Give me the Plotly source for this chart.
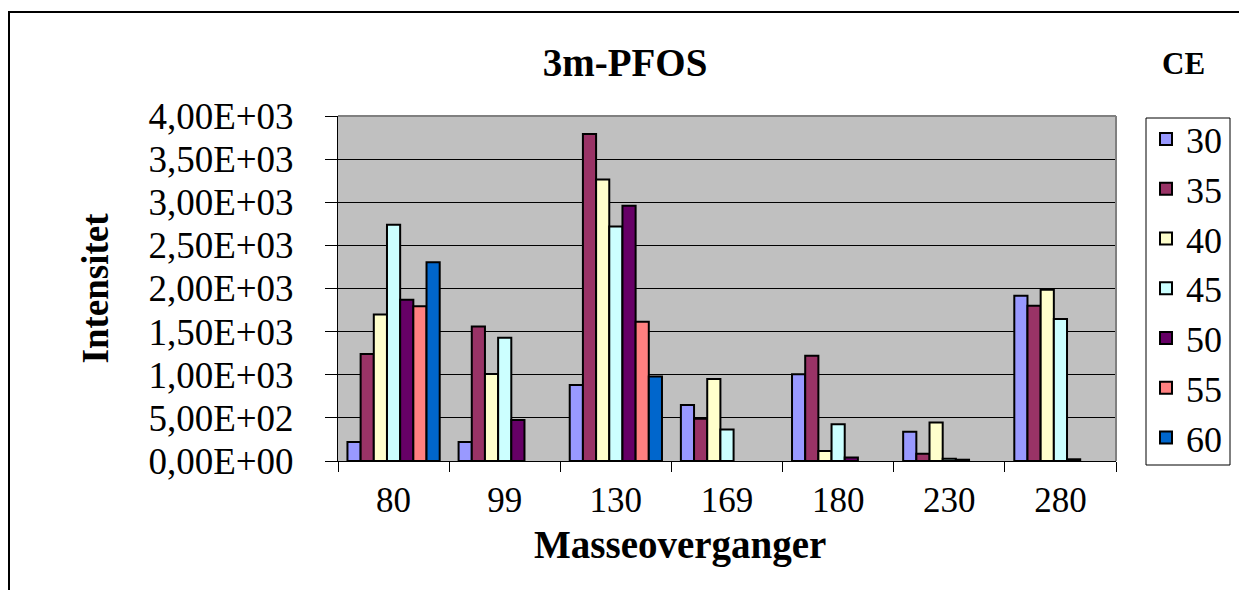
import plotly.graph_objects as go

categories = ["80", "99", "130", "169", "180", "230", "280"]
series_names = ["30", "35", "40", "45", "50", "55", "60"]
values_30 = [220, 220, 880, 650, 1005, 340, 1915]
values_35 = [1240, 1560, 3790, 490, 1220, 85, 1800]
values_40 = [1700, 1010, 3265, 950, 115, 445, 1985]
values_45 = [2740, 1430, 2720, 365, 425, 25, 1645]
values_50 = [1870, 475, 2960, None, 40, 15, 20]
values_55 = [1795, None, 1615, None, None, None, None]
values_60 = [2305, None, 980, None, None, None, None]
series_values = [values_30, values_35, values_40, values_45, values_50, values_55, values_60]
colors = ["#9999FF", "#993366", "#FFFFCC", "#CCFFFF", "#660066", "#FF8080", "#0066CC"]

y_tickvals = [0, 500, 1000, 1500, 2000, 2500, 3000, 3500, 4000]
y_ticktext = ["0,00E+00", "5,00E+02", "1,00E+03", "1,50E+03", "2,00E+03",
              "2,50E+03", "3,00E+03", "3,50E+03", "4,00E+03"]

FONT = "Liberation Serif"

fig = go.Figure()
for i, (name, vals, col) in enumerate(zip(series_names, series_values, colors)):
    fig.add_trace(go.Bar(
        x=categories, y=vals, name=name,
        legend="legend" if i < 4 else "legend2",
        marker=dict(color=col, line=dict(color="black", width=2)),
    ))

W, H = 1239, 590
L, T = 338, 116
pw, ph = 778, 345
R = W - L - pw
B = H - T - ph

def px_x(x):
    return (x - L) / pw

def px_y(y):
    return (T + ph - y) / ph

legend_common = dict(xanchor="left", yanchor="top", bgcolor="rgba(0,0,0,0)",
                     borderwidth=0, font=dict(family=FONT, size=36, color="black"),
                     tracegroupgap=0, traceorder="normal", itemwidth=30)

fig.update_layout(
    width=W, height=H,
    margin=dict(l=L, r=R, t=T, b=B),
    paper_bgcolor="white",
    plot_bgcolor="#C0C0C0",
    barmode="group",
    bargap=0.17,
    bargroupgap=0,
    font=dict(family=FONT, color="black"),
    title=dict(text="<b>3m-PFOS</b>", x=625 / W, xref="container", xanchor="center",
               y=1 - 62 / H, yref="container", yanchor="middle",
               font=dict(family=FONT, size=39, color="black")),
    showlegend=True,
    legend=dict(x=px_x(1146), y=px_y(109), **legend_common),
    legend2=dict(x=px_x(1146), y=px_y(308), **legend_common),
    xaxis=dict(
        type="category", showline=True, linecolor="black", linewidth=1,
        ticks="outside", tickson="boundaries", ticklen=10, tickcolor="black",
        showgrid=False, tickfont=dict(family=FONT, size=35, color="black"),
        ticklabelstandoff=8,
    ),
    yaxis=dict(
        range=[0, 4000], tickvals=y_tickvals, ticktext=y_ticktext,
        showline=True, linecolor="black", linewidth=1,
        ticks="outside", ticklen=12, tickcolor="black",
        showgrid=True, gridcolor="black", gridwidth=1, zeroline=False,
        tickfont=dict(family=FONT, size=37, color="black"),
        ticklabelstandoff=24,
    ),
    annotations=[
        dict(text="<b>CE</b>", x=px_x(1183), y=px_y(63), xref="paper", yref="paper",
             showarrow=False, xanchor="center", yanchor="middle",
             font=dict(family=FONT, size=31, color="black")),
        dict(text="<b>Masseoverganger</b>", x=px_x(680), y=px_y(545), xref="paper", yref="paper",
             showarrow=False, xanchor="center", yanchor="middle",
             font=dict(family=FONT, size=39, color="black")),
        dict(text="<b>Intensitet</b>", x=px_x(95), y=0.5, xref="paper", yref="paper",
             showarrow=False, xanchor="center", yanchor="middle", textangle=-90,
             font=dict(family=FONT, size=37, color="black")),
    ],
    shapes=[
        dict(type="line", xref="paper", yref="paper", x0=0, x1=1, y0=1, y1=1,
             line=dict(color="#808080", width=2), layer="above"),
        dict(type="line", xref="paper", yref="paper", x0=1, x1=1, y0=0, y1=1,
             line=dict(color="#808080", width=2), layer="above"),
        dict(type="rect", xref="paper", yref="paper",
             x0=px_x(9), x1=px_x(1270), y0=px_y(620), y1=px_y(12),
             line=dict(color="black", width=2), fillcolor="rgba(0,0,0,0)", layer="below"),
        dict(type="rect", xref="paper", yref="paper",
             x0=px_x(1146), x1=px_x(1230), y0=px_y(465), y1=px_y(118),
             line=dict(color="black", width=1), fillcolor="white", layer="below"),
    ],
)

fig.write_html(
    "out.html",
    config={"displayModeBar": False},
    post_script="document.body.style.margin='0px';document.body.style.overflow='hidden';",
)
